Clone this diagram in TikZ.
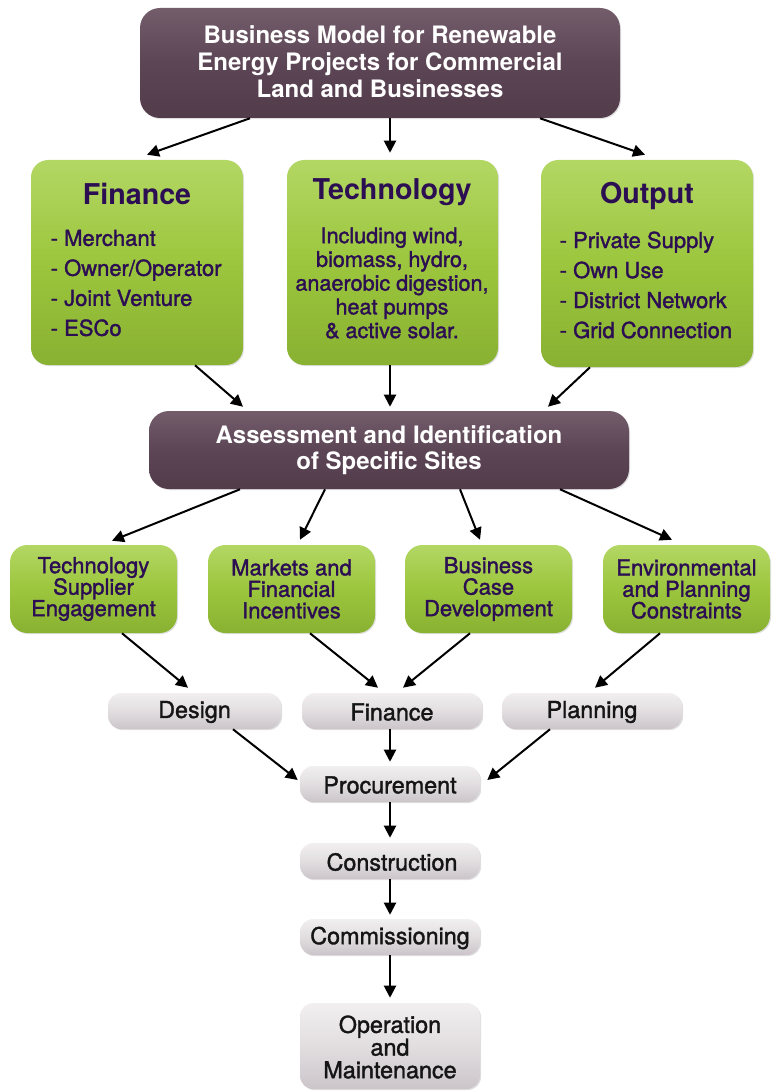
\documentclass[tikz,border=0pt]{standalone}
\usepackage{fontspec}
\setmainfont{TeX Gyre Heros}
\newfontfamily\medfont{TeX Gyre Heros}[FakeBold=1.5]
\usetikzlibrary{arrows.meta,shadows,calc}
\definecolor{plum}{HTML}{5C4555}
\definecolor{plumlight}{HTML}{735D6B}
\definecolor{plumdark}{HTML}{523C4A}
\definecolor{grn}{HTML}{9CC63D}
\definecolor{grnlight}{HTML}{B3D764}
\definecolor{grndark}{HTML}{89B132}
\definecolor{txtpurple}{HTML}{2C0E52}
\definecolor{gtop}{HTML}{F2EFF1}
\definecolor{gmid}{HTML}{E2DEE0}
\definecolor{gbot}{HTML}{CBC5C9}
\definecolor{gtxt}{HTML}{151515}
\tikzset{
  pbox/.style={rectangle, rounded corners=15pt, draw=none, top color=plumlight, bottom color=plumdark, middle color=plum,
    drop shadow={shadow xshift=0.8pt, shadow yshift=-0.8pt, opacity=0.25}},
  gbox/.style={rectangle, rounded corners=13pt, draw=none, top color=grnlight, bottom color=grndark, middle color=grn,
    drop shadow={shadow xshift=0.8pt, shadow yshift=-0.8pt, opacity=0.25}},
  sbox/.style={rectangle, rounded corners=10pt, draw=none, top color=gtop, bottom color=gbot, middle color=gmid,
    drop shadow={shadow xshift=0.8pt, shadow yshift=-0.8pt, opacity=0.25}},
  ptext/.style={text=white, align=center, font=\bfseries\fontsize{18}{20.25}\selectfont},
  headtext/.style={text=txtpurple, font=\bfseries\fontsize{21.5}{24}\selectfont},
  listtext/.style={text=txtpurple, align=left, anchor=west, font=\medfont\fontsize{16.5}{22.5}\selectfont},
  gtext/.style={text=txtpurple, align=center, font=\medfont\fontsize{16.5}{16.1}\selectfont},
  stext/.style={text=gtxt, align=center, font=\medfont\fontsize{17.5}{17}\selectfont},
  arr/.style={-{Triangle[length=9pt,width=9pt]}, line width=1.5pt, black},
}
\begin{document}
\begin{tikzpicture}[x=0.75pt,y=-0.75pt]
\useasboundingbox (0,0) rectangle (777,1091);
% boxes
\node[pbox, minimum width=360pt, minimum height=82.5pt] (top) at (380,63) {};
\node[gbox, minimum width=159pt, minimum height=153.75pt] (fin) at (137,262.5) {};
\node[gbox, minimum width=158.25pt, minimum height=153.75pt] (tech) at (392.5,262.5) {};
\node[gbox, minimum width=159pt, minimum height=155.25pt] (out) at (647,263.5) {};
\node[pbox, minimum width=360pt, minimum height=58.5pt] (assess) at (389,450) {};
\node[gbox, minimum width=125.25pt, minimum height=66pt] (r1) at (93.5,589) {};
\node[gbox, minimum width=125.25pt, minimum height=66pt] (r2) at (291.5,589) {};
\node[gbox, minimum width=125.25pt, minimum height=66pt] (r3) at (488.5,589) {};
\node[gbox, minimum width=125.25pt, minimum height=66pt] (r4) at (686.5,589) {};
\node[sbox, minimum width=129.75pt, minimum height=27pt] (design) at (194.5,711) {};
\node[sbox, minimum width=135pt, minimum height=27pt] (gfin) at (392,711) {};
\node[sbox, minimum width=135pt, minimum height=27pt] (plan) at (592,711) {};
\node[sbox, minimum width=135pt, minimum height=27pt] (proc) at (390,784) {};
\node[sbox, minimum width=135pt, minimum height=27pt] (cons) at (390,861) {};
\node[sbox, minimum width=135pt, minimum height=27pt] (comm) at (390,937) {};
\node[sbox, minimum width=135pt, minimum height=64.5pt] (op) at (390,1046) {};
% texts
\node[ptext] (ttop) at (380,62) {Business Model for Renewable\\Energy Projects for Commercial\\Land and Businesses};
\node[headtext] (hfin) at (137,194) {Finance};
\node[headtext] (htech) at (392,192) {Technology};
\node[headtext] (hout) at (647,196) {Output};
\node[listtext] (lfin) at (46,283) {- Merchant\\- Owner/Operator\\- Joint Venture\\- ESCo};
\node[listtext] (lout) at (555,285) {- Private Supply\\- Own Use\\- District Network\\- Grid Connection};
\node[text=txtpurple, align=center, font=\medfont\fontsize{16.2}{17.8}\selectfont] (ltech) at (392,283) {Including wind,\\biomass, hydro,\\anaerobic digestion,\\heat pumps\\\& active solar.};
\node[ptext, font=\bfseries\fontsize{18}{19.5}\selectfont] (tassess) at (389,450) {Assessment and Identification\\of Specific Sites};
\node[gtext] (t1) at (93.5,589) {Technology\\Supplier\\Engagement};
\node[gtext] (t2) at (291.5,589) {Markets and\\Financial\\Incentives};
\node[gtext] (t3) at (488.5,589) {Business\\Case\\Development};
\node[gtext] (t4) at (686.5,589) {Environmental\\and Planning\\Constraints};
\node[stext] (tdesign) at (194.5,712) {Design};
\node[stext] (tgfin) at (392,712) {Finance};
\node[stext] (tplan) at (592,712) {Planning};
\node[stext] (tproc) at (390,785) {Procurement};
\node[stext] (tcons) at (392,862) {Construction};
\node[stext] (tcomm) at (390,938) {Commissioning};
\node[stext] (top2) at (390,1047) {Operation\\and\\Maintenance};
% arrows
\draw[arr] ($(top.south)+(-130,0)$) -- ($(fin.north)+(10,-5)$);
\draw[arr] ($(top.south)+(10,0)$) -- ($(tech.north)+(-2.5,-7)$);
\draw[arr] ($(top.south)+(160,0)$) -- ($(out.north)+(-2,-5)$);
\draw[arr] ($(fin.south)+(58,0)$) -- ($(assess.north)+(-146,-4)$);
\draw[arr] ($(tech.south)+(-2.5,0)$) -- ($(assess.north)+(1,-4)$);
\draw[arr] ($(out.south)+(-57,0)$) -- ($(assess.north)+(159,-4)$);
\draw[arr] ($(assess.south)+(-149,0)$) -- ($(r1.north)+(18.5,-4)$);
\draw[arr] ($(assess.south)+(-64,0)$) -- ($(r2.north)+(8.5,-5)$);
\draw[arr] ($(assess.south)+(71,0)$) -- ($(r3.north)+(-8.5,-5)$);
\draw[arr] ($(assess.south)+(171,0)$) -- ($(r4.north)+(-14.5,-5)$);
\draw[arr] ($(r1.south)+(28.5,0)$) -- ($(design.north)+(-6.5,-5)$);
\draw[arr] ($(r2.south)+(18.5,0)$) -- ($(gfin.north)+(-14,-5)$);
\draw[arr] ($(r3.south)+(-18.5,0)$) -- ($(gfin.north)+(11,-5)$);
\draw[arr] ($(r4.south)+(-26.5,0)$) -- ($(plan.north)+(3,-5)$);
\draw[arr] ($(design.south)+(38.5,0)$) -- ($(proc.west)+(-2,-4)$);
\draw[arr] ($(gfin.south)+(-2,0)$) -- ($(proc.north)+(0,-4)$);
\draw[arr] ($(plan.south)+(-42,0)$) -- ($(proc.east)+(7,-4)$);
\draw[arr] (proc.south) -- ($(cons.north)+(0,-5)$);
\draw[arr] (cons.south) -- ($(comm.north)+(0,-4)$);
\draw[arr] (comm.south) -- ($(op.north)+(0,-5)$);
\end{tikzpicture}
\end{document}
